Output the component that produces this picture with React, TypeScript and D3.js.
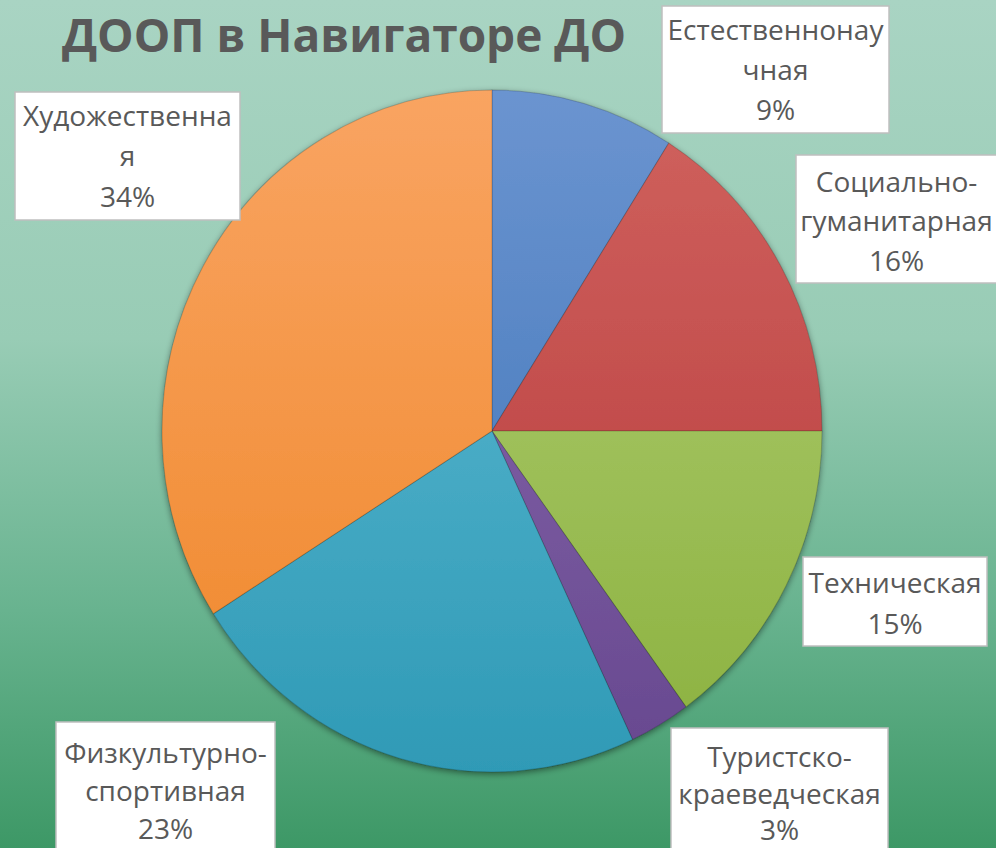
import { useEffect, useRef } from 'react';
import * as d3 from 'd3';

// categories and their shares, clockwise from 12 o'clock
const categories = [
  'Естественнонаучная',
  'Социально-гуманитарная',
  'Техническая',
  'Туристско-краеведческая',
  'Физкультурно-спортивная',
  'Художественная',
];
const shares = [9, 16, 15, 3, 23, 34];

// where Excel wrapped each label (char index), null = one line
const wrapAt = [14, 10, null, 10, 13, 13];

const sliceTop = ['#6b94d0', '#d0625e', '#b2cf77', '#8d6db2', '#62bdd5', '#f9a462'];
const sliceBottom = ['#3a71b5', '#b5383a', '#8bb13e', '#67488f', '#2f9ab6', '#ef8729'];

// label boxes, placed by hand like in the original
const labelBoxes = [
  { x: 662, y: 6, w: 227, h: 127, y0: 39.5, dy: 40 },
  { x: 796, y: 155, w: 201, h: 128, y0: 191.5, dy: 39.5 },
  { x: 803, y: 557, w: 184, h: 89, y0: 593, dy: 41 },
  { x: 671, y: 728, w: 217, h: 130, y0: 767, dy: 36.5 },
  { x: 56, y: 722, w: 219, h: 130, y0: 762.5, dy: 38 },
  { x: 15, y: 92, w: 225, h: 128, y0: 125.5, dy: 40.5 },
];

const W = 996;
const H = 848;

export default function App() {
  const svgRef = useRef<SVGSVGElement>(null);

  useEffect(() => {
    document.body.style.margin = '0';
    if (!svgRef.current) return;
    const svg = d3.select(svgRef.current);
    svg.selectAll('*').remove();
    svg.attr('width', W).attr('height', H);

    const defs = svg.append('defs');
    const bg = defs
      .append('linearGradient')
      .attr('id', 'bg')
      .attr('x1', 0)
      .attr('y1', 0)
      .attr('x2', 0)
      .attr('y2', 1);
    [
      ['0%', '#a9d4c3'],
      ['40%', '#98ccb5'],
      ['72%', '#68b38f'],
      ['100%', '#3d9866'],
    ].forEach(([o, c]) => bg.append('stop').attr('offset', o).attr('stop-color', c));

    const rx = 330;
    const ry = 341;

    sliceTop.forEach((c, i) => {
      const g = defs
        .append('linearGradient')
        .attr('id', `sl${i}`)
        .attr('gradientUnits', 'userSpaceOnUse')
        .attr('x1', 0)
        .attr('y1', -rx)
        .attr('x2', 0)
        .attr('y2', rx);
      g.append('stop').attr('offset', '0%').attr('stop-color', c);
      g.append('stop').attr('offset', '100%').attr('stop-color', sliceBottom[i]);
    });

    const shadow = defs
      .append('filter')
      .attr('id', 'shadow')
      .attr('x', '-10%')
      .attr('y', '-10%')
      .attr('width', '120%')
      .attr('height', '120%');
    shadow
      .append('feDropShadow')
      .attr('dx', 0)
      .attr('dy', 2)
      .attr('stdDeviation', 3)
      .attr('flood-color', '#000')
      .attr('flood-opacity', 0.45);

    svg.append('rect').attr('width', W).attr('height', H).attr('fill', 'url(#bg)');

    // title
    svg
      .append('text')
      .attr('x', 344)
      .attr('y', 52)
      .attr('text-anchor', 'middle')
      .style('font-family', '"Open Sans", sans-serif')
      .style('font-weight', 'bold')
      .style('font-size', '46px')
      .attr('fill', '#595959')
      .text('ДООП в Навигаторе ДО');

    const pie = d3
      .pie<number>()
      .value((d) => d)
      .sort(null);
    const arc = d3.arc<d3.PieArcDatum<number>>().innerRadius(0).outerRadius(rx);

    const g = svg
      .append('g')
      .attr('transform', `translate(492, 431) scale(1, ${ry / rx})`)
      .attr('filter', 'url(#shadow)');

    g.selectAll('path')
      .data(pie(shares))
      .enter()
      .append('path')
      .attr('d', arc)
      .attr('fill', (_, i) => `url(#sl${i})`)
      .attr('stroke', 'rgba(0,0,0,0.18)')
      .attr('stroke-width', 1);

    // data labels
    const labels = svg
      .selectAll('g.lbl')
      .data(categories)
      .enter()
      .append('g')
      .attr('class', 'lbl');

    labels
      .append('rect')
      .attr('x', (_, i) => labelBoxes[i].x)
      .attr('y', (_, i) => labelBoxes[i].y)
      .attr('width', (_, i) => labelBoxes[i].w)
      .attr('height', (_, i) => labelBoxes[i].h)
      .attr('fill', '#fff')
      .attr('stroke', '#bfbfbf')
      .attr('stroke-width', 1.5);

    labels.each(function (name, i) {
      const b = labelBoxes[i];
      const cut = wrapAt[i];
      const lines = cut == null ? [name] : [name.slice(0, cut), name.slice(cut)];
      lines.push(`${shares[i]}%`);
      const t = d3
        .select(this)
        .append('text')
        .attr('text-anchor', 'middle')
        .style('font-family', '"Open Sans", sans-serif')
        .style('font-size', '28px')
        .attr('fill', '#595959');
      lines.forEach((ln, k) => {
        t.append('tspan')
          .attr('x', b.x + b.w / 2)
          .attr('y', b.y0 + k * b.dy)
          .text(ln);
      });
    });
  }, []);

  return <svg ref={svgRef} style={{ display: 'block' }} />;
}
